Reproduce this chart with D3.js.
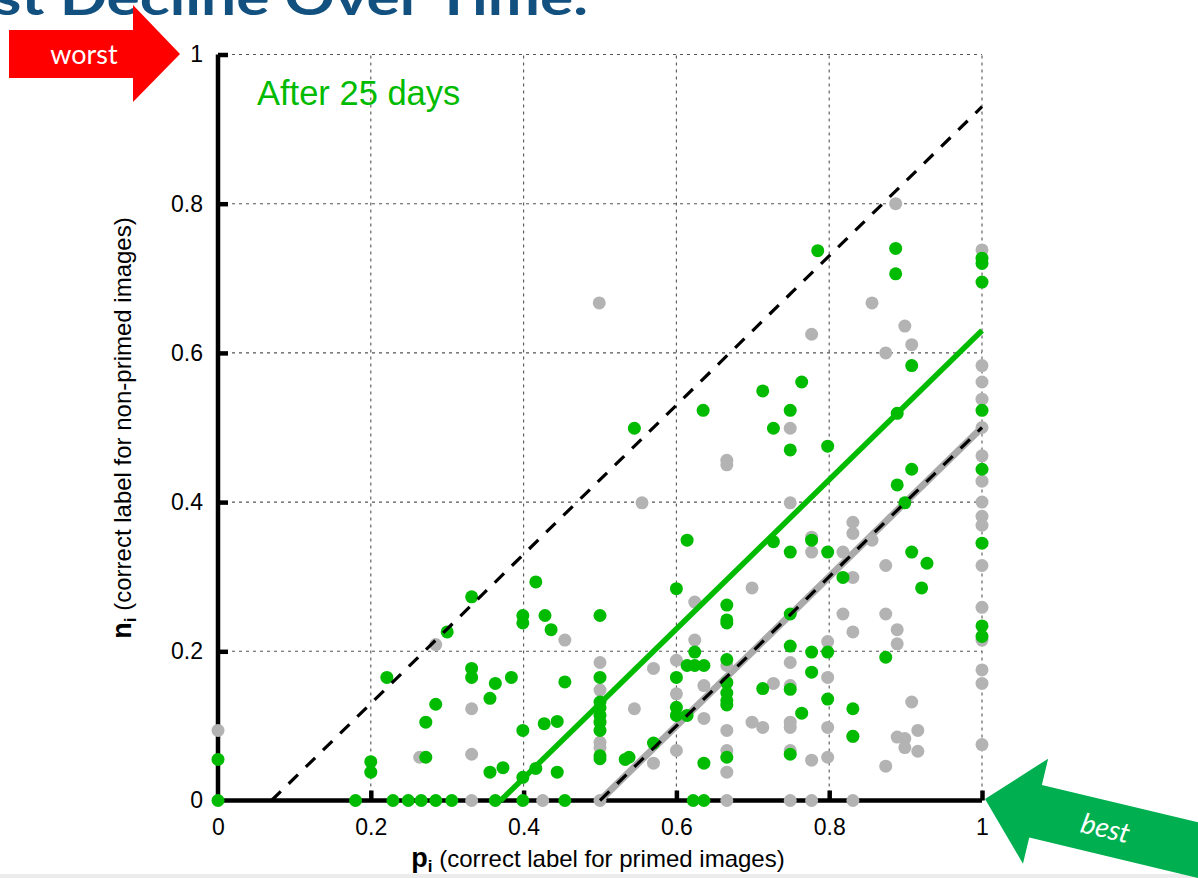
<!DOCTYPE html>
<html>
<head>
<meta charset="utf-8">
<script src="https://cdn.jsdelivr.net/npm/d3@7"></script>
<style>
  body { margin: 0; background: #fff; }
  svg { display: block; }
</style>
</head>
<body>
<svg id="chart" width="1198" height="878"></svg>
<script>
// tick values and labels (same for both axes)
const ticks = [0, 0.2, 0.4, 0.6, 0.8, 1];
const tickLabels = ['0', '0.2', '0.4', '0.6', '0.8', '1'];

// [p_i, n_i] before (gray)
const grayPoints = [
  [0, 0.094],
  [0.332, 0], [0.425, 0], [0.5, 0], [0.666, 0], [0.749, 0], [0.777, 0], [0.831, 0],
  [0.264, 0.058], [0.285, 0.209], [0.332, 0.123], [0.332, 0.062], [0.454, 0.215],
  [0.499, 0.667], [0.5, 0.185], [0.5, 0.148], [0.5, 0.078], [0.5, 0.071],
  [0.545, 0.123], [0.555, 0.399], [0.57, 0.177], [0.57, 0.05],
  [0.6, 0.188], [0.6, 0.143], [0.6, 0.067], [0.624, 0.266], [0.624, 0.215],
  [0.636, 0.154], [0.636, 0.11],
  [0.666, 0.456], [0.666, 0.45], [0.666, 0.181], [0.666, 0.158], [0.666, 0.094], [0.666, 0.067], [0.666, 0.038],
  [0.699, 0.285], [0.699, 0.105], [0.713, 0.098], [0.727, 0.157],
  [0.749, 0.499], [0.749, 0.399], [0.749, 0.185], [0.749, 0.154], [0.749, 0.105], [0.749, 0.098], [0.749, 0.067],
  [0.777, 0.625], [0.777, 0.353], [0.777, 0.333], [0.777, 0.054],
  [0.798, 0.213], [0.798, 0.165], [0.798, 0.098], [0.798, 0.058],
  [0.818, 0.333], [0.818, 0.25],
  [0.831, 0.373], [0.831, 0.358], [0.831, 0.299], [0.831, 0.226], [0.831, 0.086],
  [0.856, 0.667], [0.856, 0.349],
  [0.874, 0.6], [0.874, 0.315], [0.874, 0.25], [0.874, 0.046],
  [0.887, 0.8], [0.889, 0.229], [0.889, 0.21], [0.889, 0.085],
  [0.899, 0.636], [0.899, 0.083], [0.899, 0.071], [0.908, 0.611], [0.908, 0.132],
  [0.916, 0.094], [0.916, 0.066],
  [1, 0.738], [1, 0.583], [1, 0.561], [1, 0.538], [1, 0.5], [1, 0.462], [1, 0.428], [1, 0.4],
  [1, 0.381], [1, 0.369], [1, 0.315], [1, 0.259], [1, 0.215], [1, 0.175], [1, 0.157], [1, 0.075]
];

// [p_i, n_i] after 25 days (green)
const greenPoints = [
  [0, 0.055], [0, 0], [0.18, 0], [0.2, 0.052], [0.2, 0.038], [0.221, 0.165],
  [0.229, 0], [0.249, 0], [0.266, 0], [0.285, 0], [0.306, 0], [0.363, 0], [0.399, 0], [0.454, 0], [0.622, 0], [0.636, 0],
  [0.272, 0.105], [0.272, 0.058], [0.285, 0.129], [0.3, 0.226],
  [0.332, 0.273], [0.332, 0.177], [0.332, 0.165], [0.356, 0.137], [0.356, 0.038],
  [0.363, 0.157], [0.373, 0.044], [0.384, 0.165],
  [0.399, 0.248], [0.399, 0.238], [0.399, 0.094], [0.399, 0.031], [0.416, 0.293], [0.416, 0.043],
  [0.427, 0.103], [0.428, 0.248], [0.436, 0.229], [0.444, 0.106], [0.444, 0.038], [0.454, 0.159],
  [0.5, 0.248], [0.5, 0.165], [0.5, 0.132], [0.5, 0.124], [0.5, 0.114], [0.5, 0.105], [0.5, 0.094], [0.5, 0.06], [0.5, 0.056],
  [0.533, 0.055], [0.538, 0.058], [0.545, 0.499], [0.57, 0.077],
  [0.6, 0.284], [0.6, 0.165], [0.6, 0.125], [0.6, 0.114],
  [0.614, 0.349], [0.614, 0.181], [0.614, 0.114], [0.624, 0.199], [0.624, 0.181],
  [0.635, 0.523], [0.636, 0.181], [0.636, 0.05],
  [0.666, 0.262], [0.666, 0.242], [0.666, 0.238], [0.666, 0.189], [0.666, 0.158], [0.666, 0.144], [0.666, 0.134], [0.666, 0.128], [0.666, 0.058],
  [0.713, 0.549], [0.713, 0.15], [0.727, 0.499], [0.727, 0.347],
  [0.749, 0.523], [0.749, 0.47], [0.749, 0.333], [0.749, 0.25], [0.749, 0.207], [0.749, 0.149], [0.749, 0.062],
  [0.764, 0.561], [0.764, 0.117], [0.777, 0.349], [0.777, 0.199], [0.777, 0.172], [0.785, 0.737],
  [0.798, 0.475], [0.798, 0.333], [0.798, 0.199], [0.798, 0.136], [0.818, 0.299],
  [0.831, 0.123], [0.831, 0.086], [0.874, 0.192],
  [0.887, 0.74], [0.887, 0.706], [0.889, 0.519], [0.889, 0.423], [0.899, 0.399],
  [0.908, 0.583], [0.908, 0.444], [0.908, 0.333], [0.921, 0.285], [0.928, 0.318],
  [1, 0.727], [1, 0.72], [1, 0.695], [1, 0.523], [1, 0.444], [1, 0.345], [1, 0.234], [1, 0.22]
];

// reference / fit lines, endpoints in data units
const upperBound = [[0.07, 0], [1, 0.93]];
const greenFit = [[0.37, 0], [1, 0.63]];
const grayFit = [[0.5, 0], [1, 0.5]];

const GREEN = '#00bb00';
const GRAY = '#b3b3b3';
const FONT = 'Liberation Sans, Arial, sans-serif';

const svg = d3.select('#chart');
const x = d3.scaleLinear().domain([0, 1]).range([218, 982]);
const y = d3.scaleLinear().domain([0, 1]).range([800.5, 54.5]);

// cut-off slide title
svg.append('text')
  .attr('x', -6).attr('y', 15)
  .attr('font-family', 'Lato, sans-serif')
  .attr('font-weight', 'bold')
  .attr('font-size', 50)
  .attr('fill', '#12507f')
  .attr('textLength', 594)
  .attr('lengthAdjust', 'spacingAndGlyphs')
  .text('st Decline Over Time.');

// bottom strip
svg.append('rect').attr('x', 0).attr('y', 874).attr('width', 1198).attr('height', 4).attr('fill', '#ececec');

// grid
const grid = svg.append('g').attr('stroke', '#555').attr('stroke-width', 1.1).attr('stroke-dasharray', '3,4');
grid.selectAll('.gx').data(ticks.slice(1)).enter().append('line')
  .attr('x1', d => x(d)).attr('x2', d => x(d)).attr('y1', y(0)).attr('y2', y(1));
grid.selectAll('.gy').data(ticks.slice(1)).enter().append('line')
  .attr('y1', d => y(d)).attr('y2', d => y(d)).attr('x1', x(0)).attr('x2', x(1));

// axes
const xAxis = d3.axisBottom(x).tickValues(ticks).tickFormat((d, i) => tickLabels[i]).tickSize(-10).tickPadding(18);
const yAxis = d3.axisLeft(y).tickValues(ticks).tickFormat((d, i) => tickLabels[i]).tickSize(-10).tickPadding(15);

const gx = svg.append('g').attr('transform', `translate(0,${y(0)})`).call(xAxis);
const gy = svg.append('g').attr('transform', `translate(${x(0)},0)`).call(yAxis);
[gx, gy].forEach(g => {
  g.select('.domain').attr('stroke', '#000').attr('stroke-width', 4.5);
  g.selectAll('.tick line').attr('stroke', '#000').attr('stroke-width', 4.5);
  g.selectAll('.tick text').attr('font-family', FONT).attr('font-size', 23).attr('fill', '#000');
});
gx.select('.domain').attr('d', `M${x(0)},0H${x(1)}`);
gy.select('.domain').attr('d', `M0,${y(0)}V${y(1)}`);
gx.selectAll('.tick').filter(d => d === 0).select('line').remove();
gy.selectAll('.tick').filter(d => d === 0).select('line').remove();

const line = d3.line().x(d => x(d[0])).y(d => y(d[1]));

// gray fit line (under the dots)
svg.append('path').datum(grayFit).attr('d', line)
  .attr('fill', 'none').attr('stroke', '#aaaaaa').attr('stroke-width', 7);

// dots
svg.append('g').selectAll('circle').data(grayPoints).enter().append('circle')
  .attr('cx', d => x(d[0])).attr('cy', d => y(d[1])).attr('r', 6.5).attr('fill', GRAY);
svg.append('g').selectAll('circle').data(greenPoints).enter().append('circle')
  .attr('cx', d => x(d[0])).attr('cy', d => y(d[1])).attr('r', 6.5).attr('fill', GREEN);

// dashed black lines
[upperBound, grayFit].forEach(pts => {
  svg.append('path').datum(pts).attr('d', line)
    .attr('fill', 'none').attr('stroke', '#000').attr('stroke-width', 3.2).attr('stroke-dasharray', '13,11');
});

// green fit line
svg.append('path').datum(greenFit).attr('d', line)
  .attr('fill', 'none').attr('stroke', GREEN).attr('stroke-width', 5.5);

// panel label
svg.append('text')
  .attr('x', 257).attr('y', 105)
  .attr('font-family', FONT)
  .attr('font-size', 34.5).attr('fill', GREEN)
  .text('After 25 days');

// axis titles
const xt = svg.append('text')
  .attr('x', 598).attr('y', 867).attr('text-anchor', 'middle')
  .attr('font-family', FONT).attr('font-size', 24);
xt.append('tspan').attr('font-weight', 'bold').attr('font-size', 27).text('p');
xt.append('tspan').attr('font-weight', 'bold').attr('font-size', 17).attr('dy', 5).text('i');
xt.append('tspan').attr('dy', -5).text(' (correct label for primed images)');

const yt = svg.append('text')
  .attr('transform', 'translate(131,428) rotate(-90)').attr('text-anchor', 'middle')
  .attr('font-family', FONT).attr('font-size', 24);
yt.append('tspan').attr('font-weight', 'bold').attr('font-size', 27).text('n');
yt.append('tspan').attr('font-weight', 'bold').attr('font-size', 17).attr('dy', 5).text('i');
yt.append('tspan').attr('dy', -5).text(' (correct label for non-primed images)');

// "worst" arrow
const worst = svg.append('g');
worst.append('path')
  .attr('d', 'M9,30H133V5L180,54L133,102V78H9Z')
  .attr('fill', '#ff0000');
worst.append('text')
  .attr('x', 84).attr('y', 64).attr('text-anchor', 'middle')
  .attr('font-family', 'Lato, sans-serif').attr('font-size', 27).attr('fill', '#fff')
  .text('worst');

// "best" arrow
const best = svg.append('g').attr('transform', 'translate(985,799) rotate(13.5)');
best.append('path')
  .attr('d', 'M0,0L52,-54V-27H320V27H52V54Z')
  .attr('fill', '#00b050');
best.append('text')
  .attr('x', 124).attr('y', 10).attr('text-anchor', 'middle')
  .attr('font-family', 'Lato, sans-serif').attr('font-style', 'italic').attr('font-size', 28).attr('fill', '#fff')
  .text('best');
</script>
</body>
</html>
